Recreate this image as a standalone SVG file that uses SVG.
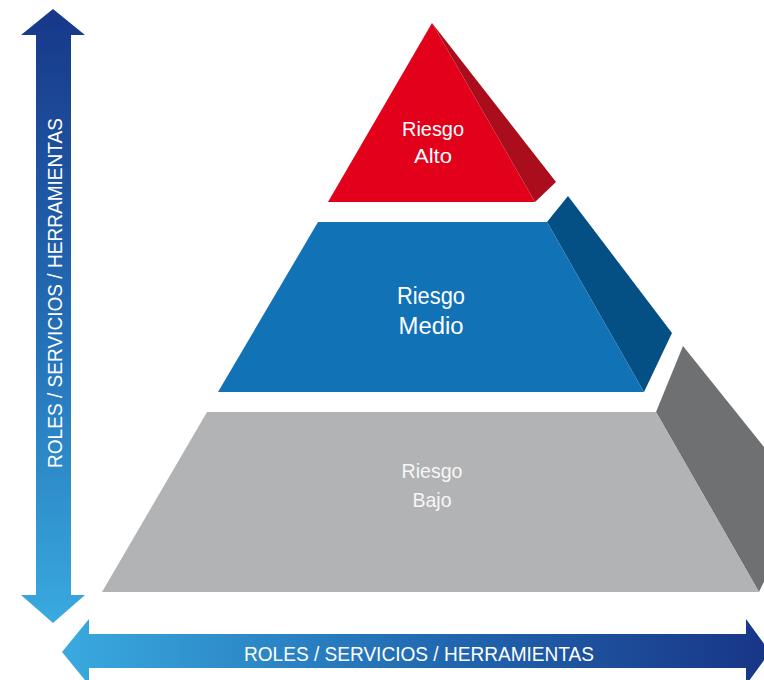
<svg xmlns="http://www.w3.org/2000/svg" width="764" height="680" viewBox="0 0 764 680">
<defs>
<linearGradient id="gv" x1="0" y1="9" x2="0" y2="623" gradientUnits="userSpaceOnUse">
<stop offset="0" stop-color="#183789"/>
<stop offset="0.5" stop-color="#226cb4"/>
<stop offset="1" stop-color="#39aadf"/>
</linearGradient>
<linearGradient id="gh" x1="62" y1="0" x2="768" y2="0" gradientUnits="userSpaceOnUse">
<stop offset="0" stop-color="#39aadf"/>
<stop offset="0.5" stop-color="#226cb4"/>
<stop offset="1" stop-color="#183586"/>
</linearGradient>
<style>
.lbl{font-family:"Liberation Sans",Arial,sans-serif;fill:#ffffff;text-anchor:middle}
.ax{font-family:"Liberation Sans",Arial,sans-serif;fill:#ffffff;font-size:21px;text-anchor:middle}
</style>
</defs>
<rect width="764" height="680" fill="#ffffff"/>
<g id="connectors">
<g id="arrow-vertical">
<polygon points="53,9 85,35 71,35 71,595 85,595 53,623 21,595 36,595 36,35 21,35" fill="url(#gv)"/>
<text class="ax" transform="translate(62,293) rotate(-90)" textLength="350" lengthAdjust="spacingAndGlyphs">ROLES / SERVICIOS / HERRAMIENTAS</text>
</g>
<g id="arrow-horizontal">
<polygon points="62,652 89,619 89,634 746,634 746,619 770,652 746,685 746,668 89,668 89,685" fill="url(#gh)"/>
<text class="ax" x="419" y="661" textLength="350" lengthAdjust="spacingAndGlyphs">ROLES / SERVICIOS / HERRAMIENTAS</text>
</g>
</g>
<g id="riesgo-bajo">
<polygon points="683,346 804,497 759,592 656,412" fill="#6f7072"/>
<polygon points="207,412 656,412 759,592 102,592" fill="#b2b3b5"/>
<text class="lbl" x="432" y="478" font-size="21" fill-opacity="0.92" textLength="61" lengthAdjust="spacingAndGlyphs">Riesgo</text>
<text class="lbl" x="432" y="507" font-size="21" fill-opacity="0.92" textLength="39" lengthAdjust="spacingAndGlyphs">Bajo</text>
</g>
<g id="riesgo-medio">
<polygon points="568,196 672,333 644,392 547,222" fill="#044f84"/>
<polygon points="318,222 547,222 644,392 218,392" fill="#1172b6"/>
<text class="lbl" x="431" y="304" font-size="23" textLength="68" lengthAdjust="spacingAndGlyphs">Riesgo</text>
<text class="lbl" x="431" y="334" font-size="23" textLength="65" lengthAdjust="spacingAndGlyphs">Medio</text>
</g>
<g id="riesgo-alto">
<polygon points="432,23 556,182 535,202" fill="#aa0d1c"/>
<polygon points="432,23 535,202 328,202" fill="#e2001a"/>
<text class="lbl" x="433" y="136" font-size="20" textLength="62" lengthAdjust="spacingAndGlyphs">Riesgo</text>
<text class="lbl" x="433" y="163" font-size="20" textLength="38" lengthAdjust="spacingAndGlyphs">Alto</text>
</g>
</svg>
